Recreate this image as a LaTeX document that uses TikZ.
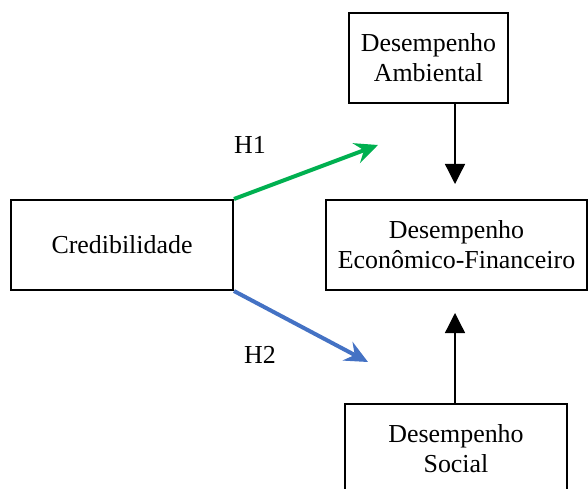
\documentclass[tikz,border=0pt]{standalone}
\usepackage{fontspec}
\setmainfont{Liberation Serif}
\usetikzlibrary{arrows.meta}
\definecolor{hgreen}{HTML}{00B050}
\definecolor{hblue}{HTML}{4472C4}
\begin{document}
\begin{tikzpicture}[x=1bp,y=-1bp,
  box/.style={draw,line width=2bp,align=center,inner sep=0pt,
    font=\fontsize{26}{30}\selectfont},
  lbl/.style={font=\fontsize{26}{30}\selectfont},
  blk/.style={line width=1.3bp,-{Triangle[width=20bp,length=20bp]}},
  hyp/.style={line width=4bp,-{Stealth[width=21bp,length=23bp,inset=8bp]}}]
\useasboundingbox (0,0) rectangle (588,489);
\begin{scope}
\clip (0,0) rectangle (588,489);
\node[box,minimum width=159bp,minimum height=90bp] (amb) at (428.5,58) {Desempenho\\Ambiental};
\node[box,minimum width=222bp,minimum height=90bp] (cred) at (122,245) {Credibilidade};
\node[box,minimum width=261bp,minimum height=90bp] (econ) at (456.5,245) {Desempenho\\Econômico-Financeiro};
\node[box,minimum width=222bp,minimum height=90bp,anchor=north] (soc) at (456,403) {Desempenho\\Social};
\coordinate (g) at (378,145);
\coordinate (b) at (368,362);
\draw[blk,shorten >=15bp] (amb.south -| 455,0) -- (econ.north -| 455,0);
\draw[blk,shorten >=22bp] (soc.north -| 455,0) -- (econ.south -| 455,0);
\draw[hyp,hgreen] (cred.north east) -- (g);
\draw[hyp,hblue] (cred.south east) -- (b);
\node[lbl] (h1) at (250,145) {H1};
\node[lbl] (h2) at (260,355) {H2};
\end{scope}
\end{tikzpicture}
\end{document}
